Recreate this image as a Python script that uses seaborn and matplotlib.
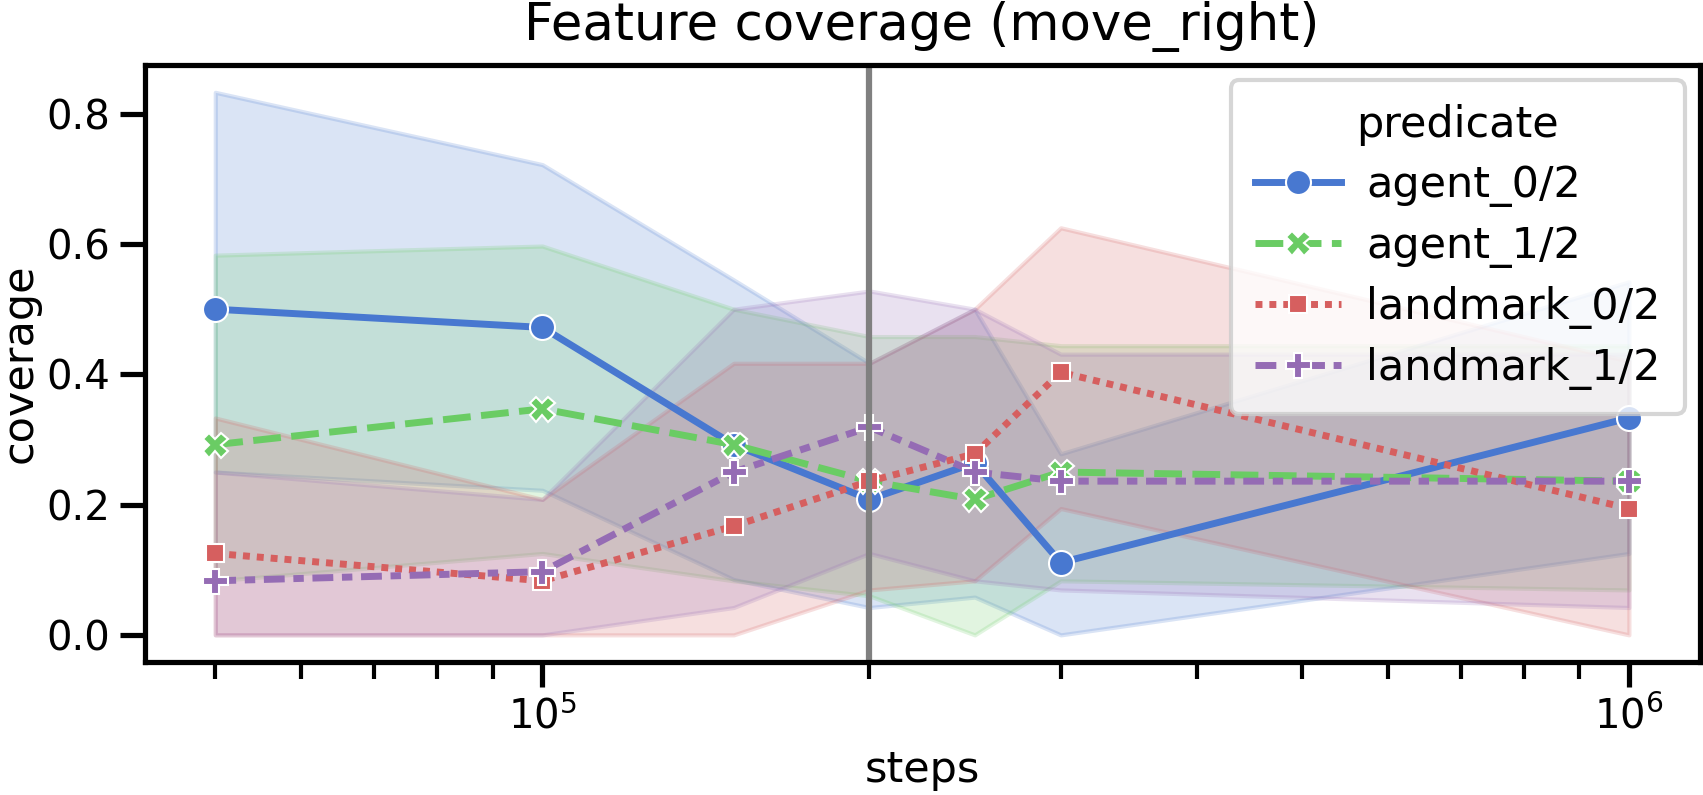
import pandas as pd
import seaborn as sns
import matplotlib.pyplot as plt

# steps at which coverage was measured
steps = [5e4, 1e5, 1.5e5, 2e5, 2.5e5, 3e5, 1e6]
predicates = ["agent_0/2", "agent_1/2", "landmark_0/2", "landmark_1/2"]

# mean coverage per predicate
agent0_mean = [0.500, 0.472, 0.292, 0.208, 0.264, 0.111, 0.333]
agent1_mean = [0.292, 0.347, 0.292, 0.236, 0.208, 0.250, 0.236]
land0_mean = [0.125, 0.083, 0.167, 0.236, 0.278, 0.403, 0.194]
land1_mean = [0.083, 0.097, 0.250, 0.319, 0.250, 0.236, 0.236]

# confidence band bounds
agent0_lo = [0.250, 0.222, 0.085, 0.042, 0.058, 0.000, 0.125]
agent0_hi = [0.833, 0.722, 0.545, 0.417, 0.500, 0.278, 0.542]
agent1_lo = [0.083, 0.125, 0.083, 0.060, 0.000, 0.083, 0.069]
agent1_hi = [0.583, 0.597, 0.500, 0.458, 0.458, 0.444, 0.444]
land0_lo = [0.000, 0.000, 0.000, 0.069, 0.083, 0.194, 0.000]
land0_hi = [0.333, 0.208, 0.417, 0.417, 0.500, 0.625, 0.420]
land1_lo = [0.000, 0.000, 0.042, 0.125, 0.083, 0.069, 0.042]
land1_hi = [0.250, 0.208, 0.500, 0.528, 0.500, 0.431, 0.431]

split_step = 2e5

means = [agent0_mean, agent1_mean, land0_mean, land1_mean]
lows = [agent0_lo, agent1_lo, land0_lo, land1_lo]
highs = [agent0_hi, agent1_hi, land0_hi, land1_hi]

rows = []
for name, m in zip(predicates, means):
    for s, v in zip(steps, m):
        rows.append({"steps": s, "coverage": v, "predicate": name})
df = pd.DataFrame(rows)

colors = ["#4878d0", "#6acc64", "#d65f5f", "#956cb4"]

sns.set_context("talk")
plt.rcParams["font.family"] = ["DejaVu Sans"]
plt.rcParams.update({
    "xtick.labelsize": 14.5,
    "ytick.labelsize": 14.5,
    "axes.labelsize": 15.5,
    "axes.titlesize": 18.5,
    "legend.fontsize": 15.5,
    "legend.title_fontsize": 15.5,
    "lines.linewidth": 2.5,
})

fig = plt.figure(figsize=(8.515, 3.975), dpi=200)
ax = fig.add_axes([0.0849, 0.1673, 0.9131, 0.7507])

for c, lo, hi in zip(colors, lows, highs):
    ax.fill_between(steps, lo, hi, color=c, alpha=0.2)

sns.lineplot(data=df, x="steps", y="coverage", hue="predicate", style="predicate",
             markers=True, palette=colors, errorbar=None, ax=ax)
ax.axvline(split_step, color="grey", lw=2.25)

ax.set_xscale("log")
ax.set_title("Feature coverage (move_right)", pad=9)
ax.set_xlabel("steps")
ax.set_ylabel("coverage", labelpad=2)
ax.legend(title="predicate", loc="upper right", labelspacing=0.42,
          borderaxespad=0.35, handletextpad=0.6, borderpad=0.55)

fig.savefig("out.png", dpi=200)
